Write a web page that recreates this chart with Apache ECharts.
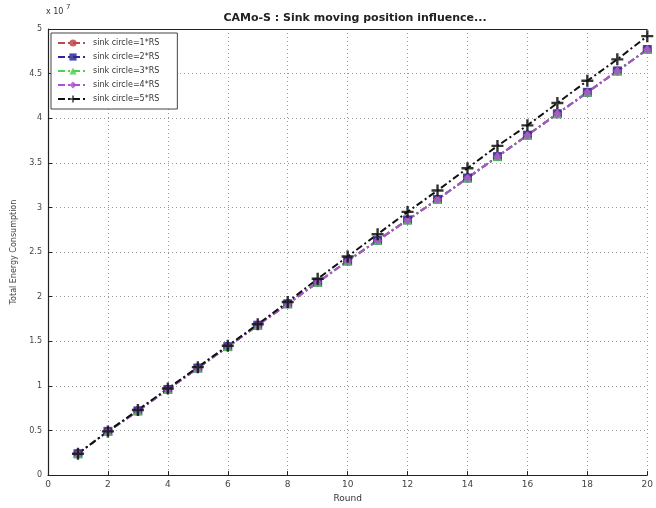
<!DOCTYPE html>
<html>
<head>
<meta charset="utf-8">
<script src="https://cdn.jsdelivr.net/npm/echarts@6/dist/echarts.min.js"></script>
<style>
  html, body { margin: 0; padding: 0; background: #fff; }
  #chart { width: 656px; height: 508px; }
</style>
</head>
<body>
<div id="chart"></div>
<script>
// Round 1..20, energy in units of 10^7
const rounds = [1, 2, 3, 4, 5, 6, 7, 8, 9, 10, 11, 12, 13, 14, 15, 16, 17, 18, 19, 20]
const circle1 = [0.24, 0.49, 0.72, 0.96, 1.20, 1.44, 1.68, 1.92, 2.16, 2.40, 2.63, 2.86, 3.09, 3.33, 3.57, 3.81, 4.05, 4.29, 4.53, 4.77]
const circle2 = [0.24, 0.49, 0.72, 0.96, 1.20, 1.44, 1.68, 1.92, 2.16, 2.40, 2.63, 2.86, 3.09, 3.33, 3.57, 3.81, 4.05, 4.29, 4.53, 4.77]
const circle3 = [0.24, 0.49, 0.72, 0.96, 1.20, 1.44, 1.68, 1.92, 2.16, 2.40, 2.63, 2.86, 3.09, 3.33, 3.57, 3.81, 4.05, 4.29, 4.53, 4.77]
const circle4 = [0.24, 0.49, 0.72, 0.96, 1.20, 1.44, 1.68, 1.92, 2.16, 2.40, 2.63, 2.86, 3.09, 3.33, 3.57, 3.81, 4.05, 4.29, 4.53, 4.77]
const circle5 = [0.24, 0.49, 0.73, 0.97, 1.21, 1.45, 1.69, 1.94, 2.20, 2.45, 2.70, 2.95, 3.19, 3.44, 3.69, 3.92, 4.17, 4.42, 4.66, 4.92]

const seriesDefs = [
  { name: 'sink circle=1*RS', data: circle1, color: '#c04848', symbol: 'circle' },
  { name: 'sink circle=2*RS', data: circle2, color: '#2a2a9a', symbol: 'rect' },
  { name: 'sink circle=3*RS', data: circle3, color: '#50d050', symbol: 'triangle' },
  { name: 'sink circle=4*RS', data: circle4, color: '#b050d0', symbol: 'diamond' },
  { name: 'sink circle=5*RS', data: circle5, color: '#111111', symbol: 'path://M4,0H6V4H10V6H6V10H4V6H0V4H4Z' },
]

const chart = echarts.init(document.getElementById('chart'))

const series = seriesDefs.map((s) => ({
  name: s.name,
  type: 'line',
  symbol: s.symbol,
  symbolSize: s.symbol.startsWith('path') ? 12 : 9,
  lineStyle: { color: s.color, width: 2, type: [7, 3, 2, 3] },
  itemStyle: { color: s.color, opacity: 0.85 },
  data: rounds.map((r, i) => [r, s.data[i]]),
}))

chart.setOption({
  animation: false,
  backgroundColor: '#fff',
  title: {
    text: 'CAMo-S : Sink moving position influence...',
    left: 350,
    top: 8,
    textAlign: 'center',
    textStyle: { fontFamily: 'DejaVu Sans', fontSize: 11, fontWeight: 'bold', color: '#222' },
  },
  graphic: [
    {
      type: 'text',
      left: 46,
      top: 8,
      style: { text: 'x 10', font: '8px DejaVu Sans', fill: '#333' },
    },
    {
      type: 'text',
      left: 66,
      top: 4,
      style: { text: '7', font: '7px DejaVu Sans', fill: '#333' },
    },
  ],
  legend: {
    orient: 'vertical',
    left: 51,
    top: 33,
    padding: [6, 18, 6, 6],
    itemGap: 6,
    itemWidth: 30,
    itemHeight: 9,
    backgroundColor: '#fff',
    borderColor: '#444',
    borderWidth: 1,
    textStyle: { fontFamily: 'DejaVu Sans', fontSize: 8, color: '#333' },
    data: seriesDefs.map((s) => s.name),
  },
  grid: { left: 48, right: 5, top: 29, bottom: 26 },
  xAxis: {
    type: 'value',
    min: 0,
    max: 20,
    interval: 2,
    name: 'Round',
    nameLocation: 'middle',
    nameGap: 13,
    nameTextStyle: { fontFamily: 'DejaVu Sans', fontSize: 9, color: '#333' },
    axisLine: { lineStyle: { color: '#222', width: 1.2 } },
    axisTick: { inside: true, length: 4, lineStyle: { color: '#222' } },
    axisLabel: { fontFamily: 'DejaVu Sans', fontSize: 9, color: '#444', margin: 5 },
    splitLine: { lineStyle: { color: '#999', type: [1, 3] } },
  },
  yAxis: {
    type: 'value',
    min: 0,
    max: 5,
    interval: 0.5,
    name: 'Total Energy Consumption',
    nameLocation: 'middle',
    nameGap: 30,
    nameTextStyle: { fontFamily: 'DejaVu Sans', fontSize: 8, color: '#444' },
    axisLine: { lineStyle: { color: '#222', width: 1.2 } },
    axisTick: { inside: true, length: 4, lineStyle: { color: '#222' } },
    axisLabel: { fontFamily: 'DejaVu Sans', fontSize: 8, color: '#444', margin: 6 },
    splitLine: { lineStyle: { color: '#999', type: [1, 3] } },
  },
  series: series.concat([
    {
      type: 'line',
      silent: true,
      data: [],
      markLine: {
        symbol: 'none',
        silent: true,
        label: { show: false },
        lineStyle: { color: '#222', width: 1.2, type: 'solid' },
        data: [[{ coord: [0, 5] }, { coord: [20, 5] }]],
      },
    },
  ]),
})
</script>
</body>
</html>
